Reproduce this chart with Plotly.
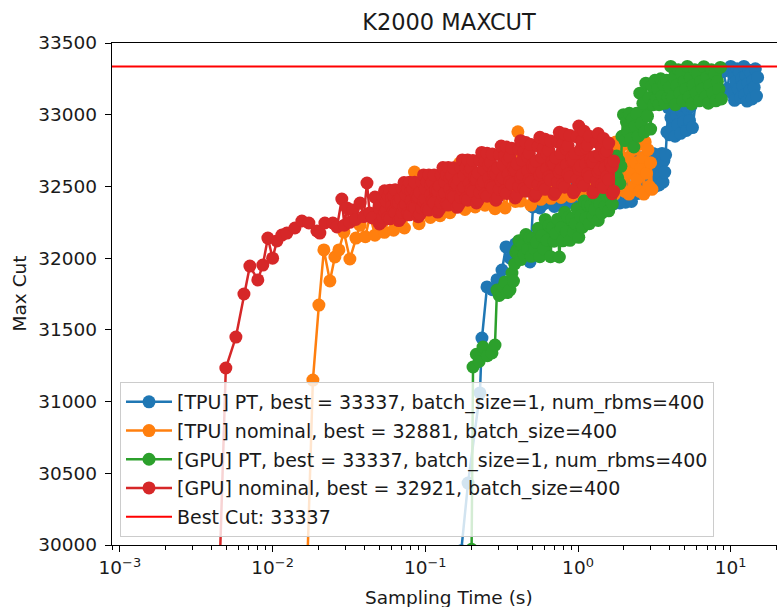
import plotly.graph_objects as go

# ---------------- data ----------------
BEST_CUT = 33337

# [GPU] nominal (red): sparse start, then a dense cloud sampled twice per time step
red_early_t = [0.00398, 0.00494, 0.00575, 0.00649, 0.00710, 0.00800, 0.00863, 0.00931, 0.0100, 0.01067,
               0.0115, 0.0124, 0.0140, 0.01555, 0.01728, 0.0195, 0.0204, 0.0220, 0.0248, 0.0264,
               0.0284, 0.0295, 0.0307, 0.0320, 0.0336, 0.0350, 0.0374, 0.0395, 0.0415, 0.0432,
               0.0450, 0.0468]
red_early_v = [28000, 31234, 31450, 31750, 31945, 31848, 31952, 32140, 32000, 32120,
               32161, 32175, 32210, 32259, 32245, 32190, 32175, 32245, 32245, 32217,
               32412, 32230, 32350, 32250, 32336, 32270, 32384, 32290, 32524, 32315,
               32280, 32426]
red_dense_t = [0.0500, 0.0513, 0.0527, 0.0541, 0.0556, 0.0571, 0.0586, 0.0602, 0.0618, 0.0635, 0.0652,
               0.0670, 0.0688, 0.0707, 0.0726, 0.0746, 0.0766, 0.0787, 0.0808, 0.0830, 0.0852, 0.0875,
               0.0899, 0.0923, 0.0948, 0.0974, 0.1000, 0.1027, 0.1055, 0.1083, 0.1112, 0.1142, 0.1173,
               0.1205, 0.1237, 0.1271, 0.1305, 0.1340, 0.1376, 0.1413, 0.1451, 0.1490, 0.1530, 0.1572,
               0.1614, 0.1658, 0.1702, 0.1748, 0.1795, 0.1844, 0.1894, 0.1945, 0.1997, 0.2051, 0.2106,
               0.2163, 0.2221, 0.2281, 0.2343, 0.2406, 0.2471, 0.2537, 0.2606, 0.2676, 0.2748, 0.2822,
               0.2898, 0.2976, 0.3056, 0.3139, 0.3223, 0.3310, 0.3400, 0.3490, 0.3585, 0.3680, 0.3780,
               0.3880, 0.3990, 0.4100, 0.4210, 0.4320, 0.4440, 0.4560, 0.4680, 0.4800, 0.4930, 0.5070,
               0.5200, 0.5340, 0.5490, 0.5630, 0.5790, 0.5940, 0.6100, 0.6270, 0.6440, 0.6610, 0.6790,
               0.6970, 0.7160, 0.7350, 0.7550, 0.7750, 0.7960, 0.8180, 0.8400, 0.8620, 0.8860, 0.9100,
               0.9340, 0.9590, 0.9850, 1.0120, 1.0390, 1.0670, 1.0960, 1.1250, 1.1560, 1.1870, 1.2190,
               1.2520, 1.2850, 1.3200, 1.3560, 1.3920, 1.4300, 1.4680, 1.5080, 1.5480, 1.5900, 1.6330,
               1.6770, 1.7120]
red_dense_v1 = [32238, 32371, 32286, 32470, 32338, 32434, 32274, 32419, 32328, 32477, 32383,
                32262, 32415, 32318, 32527, 32375, 32484, 32302, 32467, 32362, 32530, 32424,
                32289, 32459, 32351, 32580, 32414, 32533, 32335, 32512, 32400, 32579, 32466,
                32321, 32503, 32387, 32632, 32455, 32581, 32370, 32559, 32438, 32630, 32508,
                32354, 32548, 32423, 32685, 32495, 32630, 32404, 32605, 32477, 32681, 32551,
                32385, 32592, 32459, 32737, 32533, 32675, 32432, 32647, 32507, 32726, 32585,
                32404, 32627, 32481, 32782, 32560, 32714, 32451, 32683, 32532, 32767, 32615,
                32420, 32657, 32501, 32819, 32583, 32744, 32467, 32708, 32549, 32792, 32633,
                32432, 32677, 32515, 32843, 32600, 32766, 32480, 32728, 32566, 32817, 32653,
                32444, 32700, 32532, 32877, 32621, 32797, 32495, 32760, 32586, 32855, 32679,
                32456, 32729, 32549, 32921, 32643, 32822, 32505, 32769, 32590, 32850, 32673,
                32456, 32709, 32539, 32869, 32618, 32779, 32492, 32731, 32570, 32802, 32643,
                32449, 32678]
red_dense_v2 = [32346, 32251, 32431, 32324, 32395, 32284, 32473, 32360, 32436, 32319, 32395,
                32387, 32277, 32484, 32359, 32441, 32313, 32529, 32400, 32484, 32352, 32437,
                32428, 32306, 32533, 32397, 32485, 32346, 32580, 32440, 32531, 32388, 32480,
                32470, 32339, 32582, 32436, 32531, 32382, 32632, 32482, 32578, 32426, 32524,
                32513, 32373, 32632, 32475, 32576, 32417, 32684, 32523, 32626, 32464, 32567,
                32555, 32405, 32682, 32513, 32620, 32448, 32731, 32558, 32668, 32491, 32603,
                32587, 32424, 32722, 32540, 32654, 32469, 32775, 32587, 32706, 32515, 32634,
                32616, 32441, 32758, 32562, 32682, 32486, 32806, 32608, 32730, 32531, 32653,
                32635, 32453, 32780, 32578, 32702, 32499, 32829, 32625, 32752, 32546, 32674,
                32655, 32466, 32810, 32598, 32729, 32515, 32866, 32650, 32785, 32565, 32701,
                32681, 32480, 32845, 32621, 32757, 32528, 32885, 32658, 32787, 32567, 32694,
                32670, 32477, 32811, 32599, 32721, 32514, 32835, 32631, 32747, 32548, 32662,
                32640, 32467]

# [TPU] nominal (orange)
orange_t = [0.01493, 0.01836, 0.0201, 0.02167, 0.02373, 0.02558, 0.02717, 0.0293, 0.03207, 0.0351,
            0.0374, 0.0405, 0.0435, 0.0468, 0.050, 0.054, 0.058, 0.062, 0.067, 0.073,
            0.079, 0.085, 0.091, 0.100, 0.108, 0.116, 0.125, 0.135, 0.145, 0.156,
            0.168, 0.182, 0.196, 0.212, 0.228, 0.246, 0.265, 0.286, 0.308, 0.333,
            0.360, 0.389, 0.404, 0.420, 0.453, 0.490, 0.529, 0.571, 0.616, 0.665,
            0.718, 0.775, 0.836, 0.902, 0.973, 1.050, 1.130, 1.220, 1.320, 1.420,
            1.530, 1.650,
            1.70, 1.735, 1.77, 1.805, 1.84, 1.875, 1.91, 1.95, 1.99, 2.03,
            2.07, 2.11, 2.155, 2.20, 2.245, 2.29, 2.34, 2.39, 2.44, 2.49,
            2.54, 2.59, 2.645, 2.70, 2.755, 2.81, 2.87, 2.93, 2.99, 3.05]
orange_v = [28000, 31150, 31673, 32057, 31841, 32008, 32057, 32182, 31994, 32140,
            32230, 32150, 32300, 32160, 32350, 32180, 32280, 32195, 32400, 32210,
            32330, 32600, 32240, 32420, 32284, 32500, 32296, 32380, 32317, 32530,
            32663, 32340, 32450, 32357, 32560, 32369, 32480, 32345, 32620, 32350,
            32500, 32395, 32881, 32398, 32600, 32370, 32480, 32410, 32650, 32417,
            32520, 32423, 32700, 32430, 32560, 32435, 32720, 32432, 32580, 32428,
            32750, 32424,
            32701, 32447, 32810, 32592, 32756, 32501, 32665, 32556, 32792, 32465,
            32628, 32701, 32447, 32810, 32592, 32756, 32501, 32665, 32556, 32792,
            32465, 32628, 32701, 32447, 32810, 32592, 32756, 32501, 32665, 32480]

# [GPU] PT (green)
green_t = [0.201, 0.2054, 0.216, 0.225, 0.2387, 0.255, 0.2733, 0.286, 0.2947, 0.305,
           0.318, 0.3255, 0.3325, 0.345, 0.3585, 0.3695, 0.378, 0.385, 0.392,
           0.3990, 0.4100, 0.4210, 0.4320, 0.4440, 0.4560, 0.4680, 0.4800, 0.4930, 0.5070,
           0.5200, 0.5340, 0.5490, 0.5630, 0.5790, 0.5940, 0.6100, 0.6270, 0.6440, 0.6610, 0.6790,
           0.6970, 0.7160, 0.7350, 0.7550, 0.7750, 0.7960, 0.8180, 0.8400, 0.8620, 0.8860, 0.9100,
           0.9340, 0.9590, 0.9850, 1.0120, 1.0390, 1.0670, 1.0960, 1.1250, 1.1560, 1.1870, 1.2190,
           1.2520, 1.2850, 1.3200, 1.3560, 1.3920, 1.4300, 1.4680, 1.5080, 1.5480, 1.5900, 1.6330,
           1.6770,
           1.70, 1.73, 1.76, 1.79, 1.82, 1.85, 1.88, 1.91,
           1.94, 1.985, 2.03, 2.075, 2.12, 2.17, 2.22, 2.27, 2.32, 2.37,
           2.42, 2.48, 2.54, 2.60, 2.66, 2.72, 2.78, 2.85, 2.92, 2.99,
           3.05, 3.12, 3.19, 3.26, 3.33, 3.40, 3.48, 3.56, 3.64, 3.72, 3.80, 3.89, 3.97,
           4.05, 4.14, 4.24, 4.34, 4.44, 4.54, 4.64, 4.75, 4.86, 4.97,
           5.08, 5.20, 5.32, 5.44, 5.56, 5.69, 5.82, 5.95, 6.09, 6.23,
           6.37, 6.52, 6.67, 6.82, 6.98, 7.14, 7.30, 7.47, 7.64, 7.82,
           8.00, 8.18, 8.37, 8.56, 8.70]
green_v = [29970, 31241, 31330, 31280, 31380, 31320, 31339, 31394, 31778, 31740,
           31757, 31800, 31834, 31760, 31778, 31896, 31840, 31960, 32040,
           32060, 32122, 31990, 32087, 32024, 32165, 32063, 32142, 32013, 32139,
           32063, 32112, 32208, 32010, 32155, 32066, 32270, 32125, 32228, 32010, 32212,
           32118, 32172, 32272, 32008, 32211, 32121, 32320, 32183, 32285, 32124, 32275,
           32185, 32240, 32345, 32145, 32293, 32214, 32398, 32279, 32372, 32240, 32366,
           32295, 32340, 32420, 32263, 32377, 32314, 32457, 32363, 32434, 32330, 32429,
           32376,
           32530, 32690, 32600, 32712, 32560, 32680, 32520, 32640,
           32850, 33000, 32820, 32950, 32880, 33010, 32830, 32970, 32775, 32920,
           33010, 32850, 33150, 32940, 33080, 32880, 33220, 32990, 33120, 32900,
           33200, 33070, 33240, 33110, 33180, 33070, 33250, 33130, 33210, 33080, 33240, 33120, 33190,
           33337, 33124, 33259, 33070, 33205, 33313, 33151, 33286, 33097, 33232,
           33178, 33337, 33124, 33259, 33075, 33205, 33313, 33151, 33286, 33097,
           33232, 33178, 33335, 33124, 33259, 33080, 33205, 33313, 33151, 33286,
           33097, 33232, 33178, 33330, 33110]

# [TPU] PT (blue)
blue_t = [0.172, 0.1905, 0.228, 0.235, 0.2535, 0.275, 0.295, 0.318, 0.3375, 0.36,
          0.39, 0.42, 0.45, 0.485, 0.507, 0.564, 0.60, 0.65, 0.70, 0.76,
          0.83, 0.90, 0.98, 1.06, 1.15, 1.25, 1.35, 1.45, 1.55, 1.65,
          1.72, 1.80, 1.88, 1.96, 2.05, 2.14, 2.24, 2.35, 2.45, 2.55,
          2.65, 2.75, 2.86, 2.97,
          3.05, 3.10, 3.15, 3.20, 3.25, 3.30, 3.35, 3.40, 3.45, 3.50, 3.55, 3.60, 3.65, 3.70, 3.75,
          3.82, 3.90, 3.98, 4.06, 4.14, 4.23, 4.32, 4.41, 4.50, 4.60,
          4.70, 4.80, 4.91, 5.02, 5.13, 5.25, 5.37, 5.50, 5.62,
          6.0, 6.5, 7.0, 7.6, 8.2, 8.9, 9.5,
          10.0, 10.2, 10.4, 10.6, 10.8, 11.0, 11.2, 11.4, 11.6, 11.8,
          12.0, 12.2, 12.4, 12.6, 12.8, 13.0, 13.2, 13.4, 13.6, 13.8,
          14.0, 14.25, 14.5, 14.75, 15.0]
blue_v = [29960, 30432, 31060, 31443, 31799, 31780, 31850, 31917, 32078, 32000,
          32100, 32050, 32120, 31973, 32357, 32350, 32380, 32450, 32360, 32480,
          32370, 32500, 32390, 32520, 32400, 32480, 32395, 32520, 32400, 32450,
          32380, 32500, 32385, 32550, 32390, 32600, 32395, 32600, 32450, 32700,
          32500, 32650, 32520, 32690,
          32520, 32730, 32600, 32500, 32690, 32560, 32720, 32510, 32650, 32580, 32730, 32530, 32680, 32600, 32720,
          32880, 33050, 32860, 32980, 32900, 33040, 32850, 33000, 32930, 33060,
          32870, 33020, 32950, 33060, 32890, 33040, 32960, 33060, 32910,
          33150, 33250, 33120, 33280, 33150, 33300, 33180,
          33337, 33150, 33280, 33100, 33230, 33320, 33180, 33300, 33120, 33250,
          33200, 33337, 33140, 33270, 33095, 33220, 33310, 33170, 33290, 33110,
          33240, 33190, 33320, 33130, 33260]

names = ["[TPU] PT, best = 33337, batch_size=1, num_rbms=400",
         "[TPU] nominal, best = 32881, batch_size=400",
         "[GPU] PT, best = 33337, batch_size=1, num_rbms=400",
         "[GPU] nominal, best = 32921, batch_size=400"]
colors = ["#1f77b4", "#ff7f0e", "#2ca02c", "#d62728"]

xtick_vals = [0.001, 0.01, 0.1, 1, 10]
xtick_text = ["10<sup>\u22123</sup>", "10<sup>\u22122</sup>", "10<sup>\u22121</sup>",
              "10<sup>0</sup>", "10<sup>1</sup>"]

# red series: the two samples taken at each dense time step, in time order
assert len(red_early_t) == len(red_early_v)
assert len(red_dense_t) == len(red_dense_v1) == len(red_dense_v2)
red_t, red_v = list(red_early_t), list(red_early_v)
for t, a, b in zip(red_dense_t, red_dense_v1, red_dense_v2):
    red_t += [t, t]
    red_v += [a, b]

series_t = [blue_t, orange_t, green_t, red_t]
series_v = [blue_v, orange_v, green_v, red_v]
for a, b in zip(series_t, series_v):
    assert len(a) == len(b), (len(a), len(b))

# ---------------- figure ----------------
W, H = 777, 607
L, R, T, B = 112, 0, 43, 62
FONT = "DejaVu Sans"
TXT = "#1a1a1a"

fig = go.Figure()
for name, t, v, c in zip(names, series_t, series_v, colors):
    fig.add_trace(go.Scatter(x=t, y=v, mode="lines+markers", name=name, legendgroup=name,
                             line=dict(color=c, width=2.5),
                             marker=dict(color=c, size=13, line=dict(width=0))))

fig.add_trace(go.Scatter(x=[None], y=[None], mode="lines", name=f"Best Cut: {BEST_CUT}",
                         legendgroup="best", line=dict(color="#ff0000", width=2)))
fig.add_hline(y=BEST_CUT, line=dict(color="#ff0000", width=2))

pw = W - L - R
ph = H - T - B
fig.update_layout(
    width=W, height=H,
    margin=dict(l=L, r=R, t=T, b=B, pad=0),
    paper_bgcolor="white", plot_bgcolor="white",
    font=dict(family=FONT, size=18, color=TXT),
    title=dict(text="K2000 MAXCUT", x=449 / W, xanchor="center",
               y=1 - 22 / H, yanchor="middle", font=dict(size=22.5, color=TXT)),
    showlegend=True,
    legend=dict(x=(120 - L) / pw, y=(545 - 537) / ph, xanchor="left", yanchor="bottom",
                bgcolor="rgba(255,255,255,0.8)", bordercolor="#cccccc", borderwidth=1,
                font=dict(family=FONT, size=19, color=TXT), tracegroupgap=1,
                traceorder="grouped", itemwidth=46),
    annotations=[
        dict(text="Sampling Time (s)", xref="paper", yref="paper",
             x=(449 - L) / pw, y=(545 - 597) / ph, xanchor="center", yanchor="middle",
             showarrow=False, font=dict(size=18.5, color=TXT)),
        dict(text="Max Cut", xref="paper", yref="paper", textangle=-90,
             x=(18.5 - L) / pw, y=0.5, xanchor="center", yanchor="middle",
             showarrow=False, font=dict(size=18.5, color=TXT)),
    ],
)
fig.update_xaxes(type="log", range=[-3.0517, 1.3032],
                 tickmode="array", tickvals=xtick_vals, ticktext=xtick_text,
                 showline=True, linecolor="black", linewidth=1.4, mirror=True,
                 ticks="outside", ticklen=6, tickwidth=1.4, tickcolor="black",
                 showgrid=False, zeroline=False, tickfont=dict(size=18.5, color=TXT),
                 minor=dict(ticks="outside", ticklen=3.5, tickwidth=1, tickcolor="black",
                            dtick="D1", showgrid=False))
fig.update_yaxes(range=[30000, 33500], dtick=500, tickformat="d",
                 showline=True, linecolor="black", linewidth=1.4,
                 ticks="outside", ticklen=6, tickwidth=1.4, tickcolor="black",
                 ticklabelstandoff=4,
                 showgrid=False, zeroline=False, tickfont=dict(size=18.5, color=TXT))

fig.write_html("out.html")
